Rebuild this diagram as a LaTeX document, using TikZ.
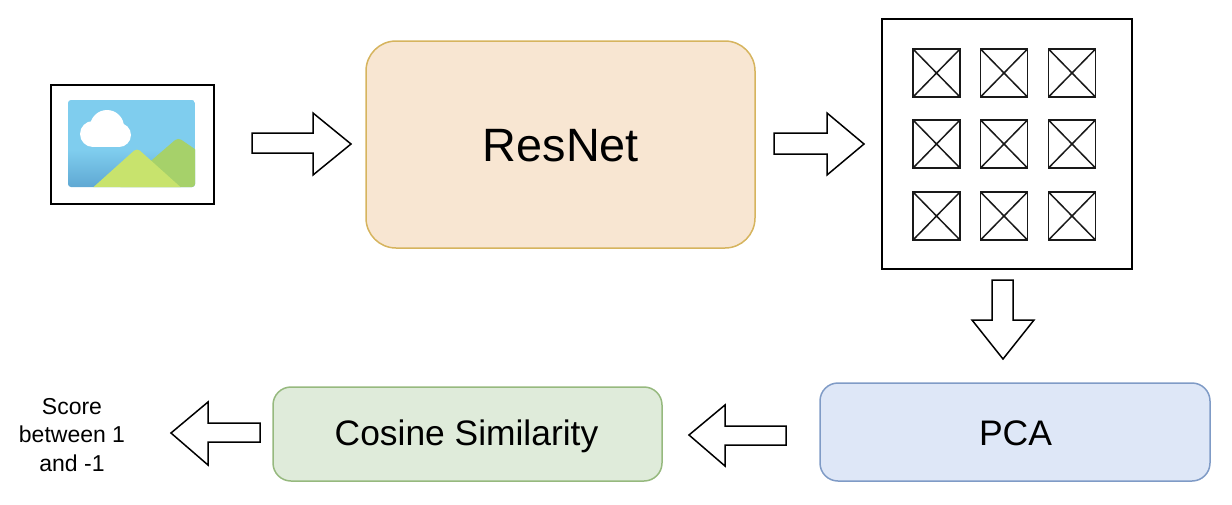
\documentclass[tikz,border=0pt]{standalone}
\usepackage{fontspec}
\setmainfont{Liberation Sans}
\definecolor{orangefill}{HTML}{F8E6D2}
\definecolor{orangeline}{HTML}{D6B45E}
\definecolor{bluefill}{HTML}{DEE7F7}
\definecolor{blueline}{HTML}{7F9BC6}
\definecolor{greenfill}{HTML}{DFEBDA}
\definecolor{greenline}{HTML}{96B97E}
\definecolor{sky}{HTML}{7FCDEE}
\definecolor{skylow}{HTML}{5FA8D3}
\definecolor{hillfront}{HTML}{C8E36D}
\definecolor{hillback}{HTML}{A6D16A}
\tikzset{
  framebox/.style={draw=black,line width=1.7pt,fill=white,outer sep=0pt},
  cellbox/.style={draw=black!90,line width=1.4pt,fill=white,minimum width=47pt,minimum height=48pt,inner sep=0pt,outer sep=0pt,
    path picture={\draw[black!90,line width=1.5pt] (path picture bounding box.north west)--(path picture bounding box.south east)
      (path picture bounding box.north east)--(path picture bounding box.south west);}},
  blockarrow/.style={draw=black,line width=1.5pt,fill=white,line join=miter},
  stage/.style={rounded corners=#1,line width=1.5pt,inner sep=0pt,outer sep=0pt,anchor=north west,align=center},
  stage/.default=18pt,
  stagetext/.style={inner sep=0pt,anchor=center}
}
\begin{document}
\begin{tikzpicture}[x=1pt,y=-1pt]
\useasboundingbox (0,0) rectangle (1232,504);
% input image
\node[framebox,anchor=north west,minimum width=163pt,minimum height=119pt,inner sep=0pt] (frame) at (51,85) {};
\begin{scope}
  \clip[rounded corners=3pt] (68,100) rectangle (195,187);
  \fill[sky] (68,100) rectangle (195,150);
  \shade[top color=sky,bottom color=skylow] (68,150) rectangle (195,187);
  \fill[hillback,rounded corners=4pt] (115,192) -- (178,137.5) -- (205,156) -- (205,192) -- cycle;
  \fill[hillfront,rounded corners=4pt] (88,192) -- (137,148) -- (186,192) -- cycle;
\end{scope}
\fill[white] (107,127) circle[radius=17];
\fill[white] (93,134) circle[radius=13];
\fill[white] (119,135) circle[radius=12];
\fill[white] (93,128) rectangle (119,147);
% stages
\node[stage=30pt,draw=orangeline,fill=orangefill,minimum width=389pt,minimum height=207pt,
  label={[stagetext,yshift=-1pt,xshift=0.5pt,font=\fontsize{46.8}{50}\selectfont]center:ResNet}] (resnet) at (366,41) {};
\node[stage,draw=blueline,fill=bluefill,minimum width=390pt,minimum height=98pt,
  label={[stagetext,yshift=-1pt,xshift=0.5pt,font=\fontsize{35.5}{40}\selectfont]center:PCA}] (pca) at (820,383) {};
\node[stage,draw=greenline,fill=greenfill,minimum width=389pt,minimum height=94pt,
  label={[stagetext,yshift=-2pt,xshift=-1pt,font=\fontsize{35.4}{40}\selectfont]center:Cosine Similarity}] (cosine) at (273,387) {};
\node[align=center,inner sep=0pt,font=\fontsize{23}{28.5}\selectfont] (score) at (72,435) {Score\\between 1\\and -1};
% feature grid
\node[framebox,anchor=north west,minimum width=250pt,minimum height=250pt,inner sep=0pt] (grid) at (882,19) {};
\foreach \r/\y in {1/73,2/144,3/216}{
  \foreach \c/\x in {1/936.5,2/1004,3/1072}{
    \node[cellbox] (cell\r\c) at (\x,\y) {};
  }
}
% block arrows
\draw[blockarrow] (252,133) -- (313,133) -- (313,113) -- (351,144) -- (313,175) -- (313,153) -- (252,153) -- cycle;
\draw[blockarrow] (774,133) -- (827,133) -- (827,113) -- (864,144) -- (827,175) -- (827,154) -- (774,154) -- cycle;
\draw[blockarrow] (992,280) -- (1013,280) -- (1013,320) -- (1034,320) -- (1003,359) -- (972,320) -- (992,320) -- cycle;
\draw[blockarrow] (786,426) -- (725,426) -- (725,405) -- (689,435) -- (725,466) -- (725,445) -- (786,445) -- cycle;
\draw[blockarrow] (260,423) -- (208,423) -- (208,402) -- (171,433) -- (208,465) -- (208,442) -- (260,442) -- cycle;
\end{tikzpicture}
\end{document}
